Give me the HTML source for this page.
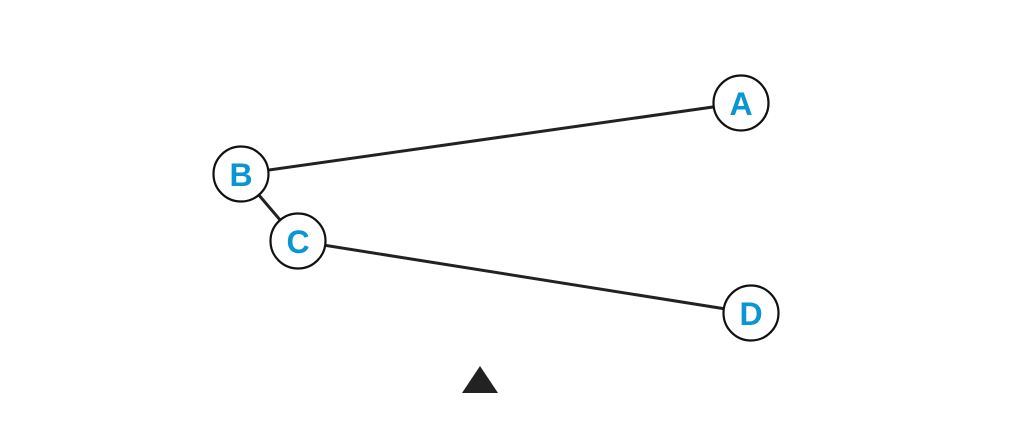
<!DOCTYPE html>
<html><head><meta charset="utf-8"><style>
html,body{margin:0;padding:0;background:#fff;width:1024px;height:432px;overflow:hidden}
</style></head><body>
<svg width="1024" height="432" viewBox="0 0 1024 432" xmlns="http://www.w3.org/2000/svg">
<g stroke="#222" stroke-width="3" fill="none">
<line x1="241" y1="174" x2="741" y2="103"/>
<line x1="241" y1="174" x2="298" y2="241"/>
<line x1="298" y1="241" x2="751" y2="313"/>
</g>
<g fill="#fff" stroke="#111" stroke-width="2.2">
<circle cx="741" cy="103" r="27.5"/>
<circle cx="241" cy="174" r="27.5"/>
<circle cx="298" cy="241" r="27.5"/>
<circle cx="751" cy="313" r="27.5"/>
</g>
<g fill="#0a96d2" font-family="Liberation Sans, sans-serif" font-weight="bold" font-size="32" text-anchor="middle">
<text x="741" y="115">A</text>
<text x="241" y="186">B</text>
<text x="298" y="253">C</text>
<text x="751" y="325">D</text>
</g>
<polygon points="480,366 462,393 498,393" fill="#222"/>
</svg>
</body></html>
